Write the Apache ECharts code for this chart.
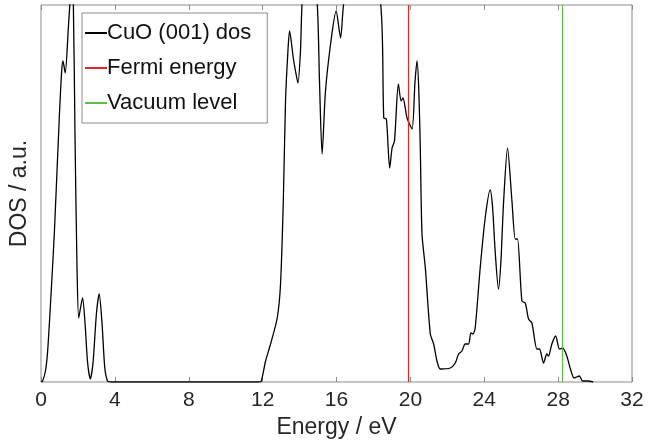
<!DOCTYPE html>
<html>
<head>
<meta charset="utf-8">
<script src="https://cdn.jsdelivr.net/npm/echarts@6/dist/echarts.min.js"></script>
<style>
  html, body { margin: 0; padding: 0; background: #fff; }
  #chart { width: 648px; height: 447px; }
</style>
</head>
<body>
<div id="chart"></div>
<script>
// DOS curve (values above the frame are clipped)
const energy = [0, 0.09, 0.25, 0.36, 0.52, 0.72, 0.99, 1.12, 1.19, 1.31, 1.48, 1.57, 1.66, 1.75, 1.84, 1.95,
  2.04, 2.12, 2.25, 2.38, 2.52, 2.67, 2.82, 3.0, 3.15, 3.3, 3.45, 3.6, 3.8, 11.8,
  11.93, 12.16, 12.43, 12.79, 12.97, 13.12, 13.24, 13.37, 13.46, 13.66, 13.78, 13.91, 14.05, 14.14, 14.5,
  14.95, 15.08, 15.22, 15.4, 15.68, 15.98, 16.22, 16.4, 17.3, 18.38, 18.56, 18.7, 18.88, 19.01, 19.14,
  19.35, 19.5, 19.6, 19.82, 20.09, 20.25, 20.36, 20.46, 20.54, 20.63, 20.81, 21.08, 21.26, 21.44, 21.62,
  22.16, 22.43, 22.61, 22.79, 22.97, 23.15, 23.28, 23.39, 23.51, 23.78, 24.05, 24.32, 24.45, 24.59, 24.77,
  24.9, 25.05, 25.26, 25.5, 25.68, 25.8, 26.04, 26.22, 26.4, 26.58, 26.85, 26.99, 27.21, 27.39, 27.48,
  27.66, 27.87, 28.07, 28.25, 28.47, 28.65, 28.86, 29.0, 29.15, 29.33, 29.62, 29.9];
const dos = [0, 1, 12, 31, 80, 148, 264, 311, 321, 309, 354, 380, 400, 380, 248, 114,
  64, 72, 84, 60, 20, 3, 20, 68, 88, 60, 15, 1, 0, 0,
  1, 21, 38, 64, 98, 181, 281, 331, 351, 324, 311, 299, 331, 380, 450,
  380, 300, 228, 290, 338, 371, 344, 380, 460, 380, 264, 263, 214, 234, 241,
  298, 281, 284, 264, 253, 300, 321, 290, 231, 148, 114, 48, 38, 21, 13,
  14, 19, 28, 31, 38, 38, 49, 48, 54, 114, 164, 192, 175, 131, 93,
  120, 181, 234, 181, 143, 143, 81, 79, 63, 59, 33, 33, 19, 28, 26,
  38, 46, 33, 34, 26, 14, 4, 5, 6, 1, 1, 0];

const fermiEnergy = 19.9;
const vacuumLevel = 28.2;
const seriesNames = ['CuO (001) dos', 'Fermi energy', 'Vacuum level'];

const textColor = '#262626';
const frameColor = '#8c8c8c';
const fontFamily = '"Liberation Sans", Arial, Helvetica, sans-serif';

const chart = echarts.init(document.getElementById('chart'));

const vline = (x) => ({
  silent: true,
  symbol: 'none',
  label: { show: false },
  lineStyle: { type: 'solid', width: 1.2 },
  data: [{ xAxis: x }]
});

chart.setOption({
  animation: false,
  textStyle: { fontFamily: fontFamily },
  grid: {
    left: 40, right: 16, top: 5, bottom: 65,
    show: true, borderColor: frameColor, borderWidth: 1
  },
  legend: {
    orient: 'vertical',
    left: 82, top: 13,
    padding: [9, 16, 9, 3],
    itemGap: 13,
    itemWidth: 22,
    itemHeight: 2,
    borderColor: frameColor,
    borderWidth: 1,
    backgroundColor: '#fff',
    textStyle: { fontSize: 22, color: '#111', padding: [0, 0, 0, -5] },
    data: seriesNames.map(n => ({ name: n, icon: 'rect' }))
  },
  xAxis: [{
    type: 'value', min: 0, max: 32, interval: 4,
    name: 'Energy / eV', nameLocation: 'middle', nameGap: 31,
    nameTextStyle: { fontSize: 23, color: textColor },
    axisLine: { show: false },
    axisTick: { inside: true, length: 5, lineStyle: { color: frameColor } },
    axisLabel: { fontSize: 21, color: textColor, margin: 8 },
    splitLine: { show: false }
  }, {
    type: 'value', min: 0, max: 32, interval: 4, position: 'top',
    axisLine: { show: false },
    axisTick: { inside: true, length: 5, lineStyle: { color: frameColor } },
    axisLabel: { show: false },
    splitLine: { show: false }
  }],
  yAxis: {
    type: 'value', min: 0, max: 377,
    name: 'DOS / a.u.', nameLocation: 'middle', nameGap: 10, nameRotate: 90,
    nameTextStyle: { fontSize: 23, color: textColor },
    axisLine: { show: false },
    axisTick: { show: false },
    axisLabel: { show: false },
    splitLine: { show: false }
  },
  series: [{
    name: seriesNames[0],
    type: 'line',
    data: energy.map((e, i) => [e, dos[i]]),
    showSymbol: false,
    smooth: 0.25,
    clip: true,
    color: '#000',
    lineStyle: { color: '#000', width: 1.3 }
  }, {
    name: seriesNames[1],
    type: 'line',
    data: [],
    color: '#e3262b',
    markLine: vline(fermiEnergy)
  }, {
    name: seriesNames[2],
    type: 'line',
    data: [],
    color: '#5fba46',
    markLine: vline(vacuumLevel)
  }]
});
</script>
</body>
</html>
